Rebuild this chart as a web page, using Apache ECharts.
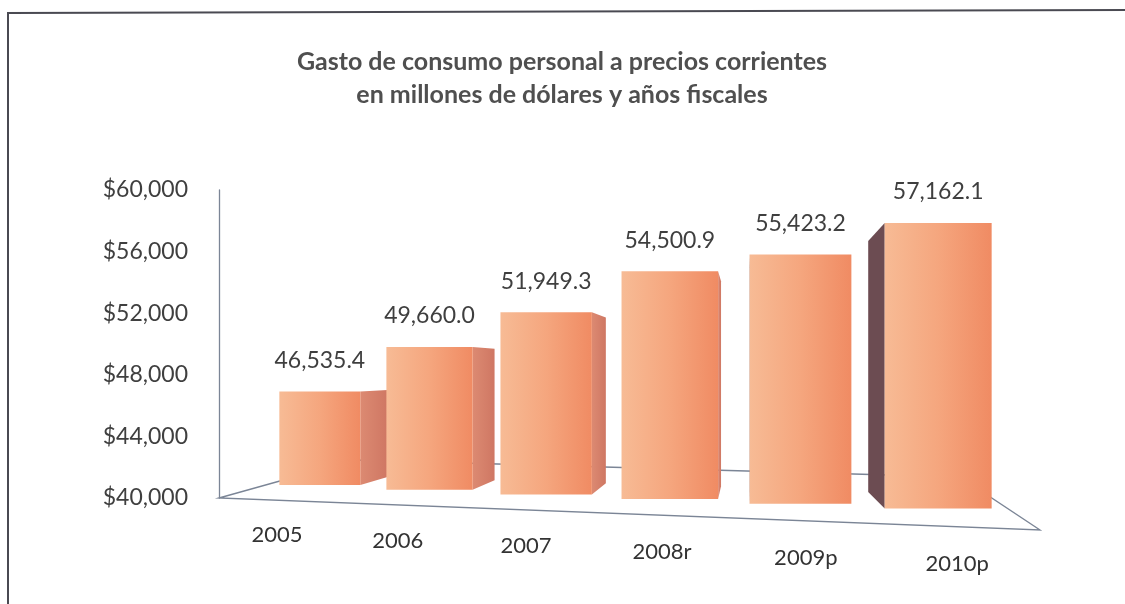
<!DOCTYPE html>
<html>
<head>
<meta charset="utf-8">
<script src="https://cdn.jsdelivr.net/npm/echarts@6/dist/echarts.min.js"></script>
<style>
html,body{margin:0;padding:0;background:#fff;}
#chart{width:1125px;height:604px;}
</style>
</head>
<body>
<div id="chart"></div>
<script>
// ---- data ----
const categories = ['2005', '2006', '2007', '2008r', '2009p', '2010p'];
const values = [46535.4, 49660.0, 51949.3, 54500.9, 55423.2, 57162.1];
const yMin = 40000, yMax = 60000, yStep = 4000;
const titleLines = ['Gasto de consumo personal a precios corrientes', 'en millones de dólares y años fiscales'];

const FONT = 'Lato';
const n = categories.length;
const Q = 0.1416; // perspective warp

function fmtVal(v) {
  return v.toLocaleString('en-US', {minimumFractionDigits: 1, maximumFractionDigits: 1});
}

function renderBar(params, api) {
  const k = api.value(0);
  const v = api.value(1);
  const top0 = api.coord([k, v]);
  const base0 = api.coord([k, yMin]);
  const c0 = api.coord([0, yMin])[0];
  const c5 = api.coord([n - 1, yMin])[0];
  const span = c5 - c0;
  function warpX(x) {
    const u = (x - c0) / span;
    return c0 + span * (u * (1 - Q) + Q * u * u);
  }
  const band = api.size([1, 0])[0];
  const cx = warpX(top0[0]);
  const s = 0.93 + 0.03 * k;
  const floorY = base0[1] - 13 + 4.7 * k;
  const h = (base0[1] - top0[1]) * s;
  const topY = floorY - h;
  const w = band * (0.655 + 0.042 * k);
  const x1 = cx - w / 2, x2 = cx + w / 2;
  const vpX = warpX(c0 + span * 3.6 / (n - 1));
  const vpY = api.coord([0, 48200])[1];
  const t = 0.07 + 0.01 * k;
  function back(p) { return [p[0] + t * (vpX - p[0]), p[1] + t * (vpY - p[1])]; }

  const children = [];
  let side = null;
  if (vpX > x2 + 1) {
    const a = [x2, topY], b = [x2, floorY];
    side = {
      type: 'polygon',
      shape: {points: [a, back(a), back(b), b]},
      style: {fill: new echarts.graphic.LinearGradient(0, 0, 1, 0, [
        {offset: 0, color: '#dc8a72'}, {offset: 1, color: '#cf7763'}])}
    };
  } else if (vpX < x1 - 1) {
    const a = [x1, topY], b = [x1, floorY];
    side = {
      type: 'polygon',
      shape: {points: [a, back(a), back(b), b]},
      style: {fill: '#6c4c52'}
    };
  }
  if (side) children.push(side);
  children.push({
    type: 'rect',
    shape: {x: x1, y: topY, width: w, height: floorY - topY},
    style: {fill: new echarts.graphic.LinearGradient(0, 0, 1, 0, [
      {offset: 0, color: '#f7bb95'}, {offset: 0.5, color: '#f5a67e'}, {offset: 1, color: '#f08b63'}])}
  });
  children.push({
    type: 'text',
    style: {text: fmtVal(v), x: cx, y: topY - 31, align: 'center', verticalAlign: 'middle',
      font: '23px ' + FONT, fill: '#3f3f3f'}
  });
  children.push({
    type: 'text',
    style: {text: categories[k], x: cx + (cx - vpX) * 0.1, y: floorY + 50 + k, align: 'center',
      verticalAlign: 'middle', font: '22px ' + FONT, fill: '#333'}
  });
  return {type: 'group', children: children};
}

const chart = echarts.init(document.getElementById('chart'), null, {renderer: 'canvas'});
const option = {
  backgroundColor: '#fff',
  animation: false,
  title: {
    text: titleLines.join('\n'),
    left: 557, top: 40, textAlign: 'center',
    textStyle: {fontFamily: FONT, fontWeight: 'bold', fontSize: 25, color: '#4f4f4f', lineHeight: 33}
  },
  grid: {left: 258, right: 125, top: 190, bottom: 106},
  xAxis: {type: 'category', data: categories, show: false},
  yAxis: {
    type: 'value', min: yMin, max: yMax, interval: yStep, offset: 39,
    axisLine: {show: true, lineStyle: {color: '#7b8596', width: 1.3}},
    axisTick: {show: false},
    splitLine: {show: false},
    axisLabel: {margin: 31, fontFamily: FONT, fontSize: 23, color: '#3f3f3f',
      formatter: v => '$' + v.toLocaleString('en-US')}
  },
  graphic: [
    {type: 'polyline', z: 0, shape: {points: [[8, 604], [8, 13], [1125, 10]]},
      style: {stroke: '#4a4a52', lineWidth: 2, fill: null}},
    {type: 'polygon', z: 0, shape: {points: [[219, 498], [355, 460], [960, 477], [1040, 530]]},
      style: {stroke: '#7b8596', lineWidth: 1.3, fill: null}}
  ],
  series: [{
    type: 'custom',
    renderItem: renderBar,
    data: values.map((v, i) => [i, v]),
    z: 5
  }]
};
chart.setOption(option);
</script>
</body>
</html>
